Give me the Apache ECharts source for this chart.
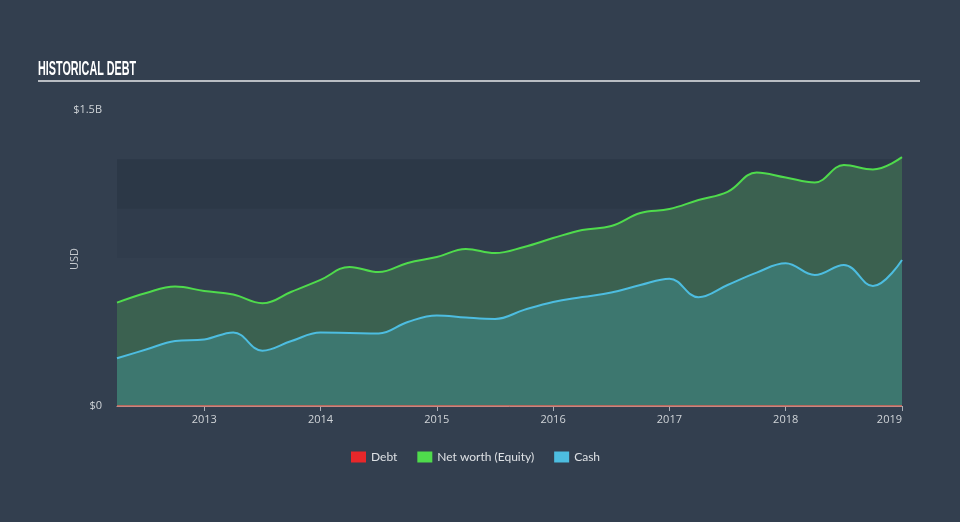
<!DOCTYPE html>
<html>
<head>
<meta charset="utf-8">
<script src="https://cdn.jsdelivr.net/npm/echarts@6/dist/echarts.min.js"></script>
<style>
html,body{margin:0;padding:0;background:#333f4f;}
#c{width:960px;height:522px;}
</style>
</head>
<body>
<div id="c"></div>
<script>
// Quarter-end dates as decimal years
var quarters = [2012.25,2012.5,2012.75,2013.0,2013.25,2013.5,2013.75,2014.0,2014.25,2014.5,2014.75,2015.0,2015.25,2015.5,2015.75,2016.0,2016.25,2016.5,2016.75,2017.0,2017.25,2017.5,2017.75,2018.0,2018.25,2018.5,2018.75,2019.0];
// Values in billions USD
var debt   = [0,0,0,0,0,0,0,0,0,0,0,0,0,0,0,0,0,0,0,0,0,0,0,0,0,0,0,0];
var equity = [0.524,0.573,0.605,0.583,0.565,0.521,0.579,0.639,0.705,0.679,0.725,0.755,0.796,0.775,0.806,0.851,0.892,0.912,0.978,0.998,1.044,1.085,1.183,1.158,1.133,1.221,1.199,1.261];
var cash   = [0.242,0.286,0.329,0.337,0.373,0.280,0.329,0.372,0.370,0.368,0.426,0.459,0.448,0.441,0.487,0.527,0.552,0.575,0.613,0.645,0.551,0.613,0.676,0.723,0.664,0.715,0.608,0.740];
var yearTicks = [2013,2014,2015,2016,2017,2018,2019];
var yLabels = {0:'$0', 1.5:'$1.5B'};

function pairs(arr){ return quarters.map(function(q,i){ return [q, arr[i]]; }); }

var chart = echarts.init(document.getElementById('c'));
chart.setOption({
  backgroundColor: '#333f4f',
  animation: false,
  graphic: [{
    type:'text', x:38, y:79, scaleX:0.54, scaleY:1,
    style:{text:'HISTORICAL DEBT', fill:'#ffffff', font:'bold 20px "Liberation Sans", sans-serif', textAlign:'left', textVerticalAlign:'bottom'}
  },{
    type:'rect', shape:{x:38, y:80, width:882, height:2}, style:{fill:'#b9bdc3'}
  },{
    type:'text', x:75, y:259, rotation:Math.PI/2,
    style:{text:'USD', fill:'#c5c9ce', font:'11px "Open Sans", sans-serif', textAlign:'center', textVerticalAlign:'middle'}
  }],
  legend: {
    top: 446, left: 346,
    itemWidth: 15, itemHeight: 11, itemGap: 20,
    icon: 'rect',
    textStyle: {color:'#dde0e4', fontFamily:'Lato, sans-serif', fontSize:12},
    data: ['Debt','Net worth (Equity)','Cash']
  },
  grid: {left:117, right:58, top:110, bottom:116},
  xAxis: {
    type:'value', min:2012.25, max:2019,
    axisLine:{show:true, lineStyle:{color:'#aab0b8', width:1}},
    axisTick:{show:true, customValues: yearTicks, length:5, lineStyle:{color:'#aab0b8'}},
    axisLabel:{customValues: yearTicks, color:'#d0d4d8', fontSize:11, fontFamily:'Open Sans, sans-serif', margin:8, alignMaxLabel:'right',
      formatter:function(v){ return String(Math.round(v)); }},
    splitLine:{show:false}
  },
  yAxis: {
    type:'value', min:0, max:1.5, interval:0.25,
    axisLine:{show:false}, axisTick:{show:false},
    axisLabel:{color:'#d0d4d8', fontSize:11, fontFamily:'Open Sans, sans-serif', margin:15,
      formatter:function(v){ return yLabels[v] !== undefined ? yLabels[v] : ''; }},
    splitLine:{show:false},
    splitArea:{show:true, areaStyle:{color:['#333f4f','#313d4d','#333f4f','#303c4c','#2c3847','rgba(0,0,0,0)']}}
  },
  series: [
    {
      name:'Net worth (Equity)', type:'line', data:pairs(equity), smooth:0.4, symbol:'none',
      lineStyle:{color:'#4fdb4c', width:2},
      itemStyle:{color:'#4fdb4c'},
      areaStyle:{color:'#3b6150', opacity:1}
    },
    {
      name:'Cash', type:'line', data:pairs(cash), smooth:0.4, symbol:'none',
      lineStyle:{color:'#4dbde0', width:2},
      itemStyle:{color:'#4dbde0'},
      areaStyle:{color:'#3d776f', opacity:1}
    },
    {
      name:'Debt', type:'line', data:pairs(debt), symbol:'none',
      lineStyle:{color:'#e0675a', width:1.5},
      itemStyle:{color:'#e8272a'}
    }
  ]
});
</script>
</body>
</html>
